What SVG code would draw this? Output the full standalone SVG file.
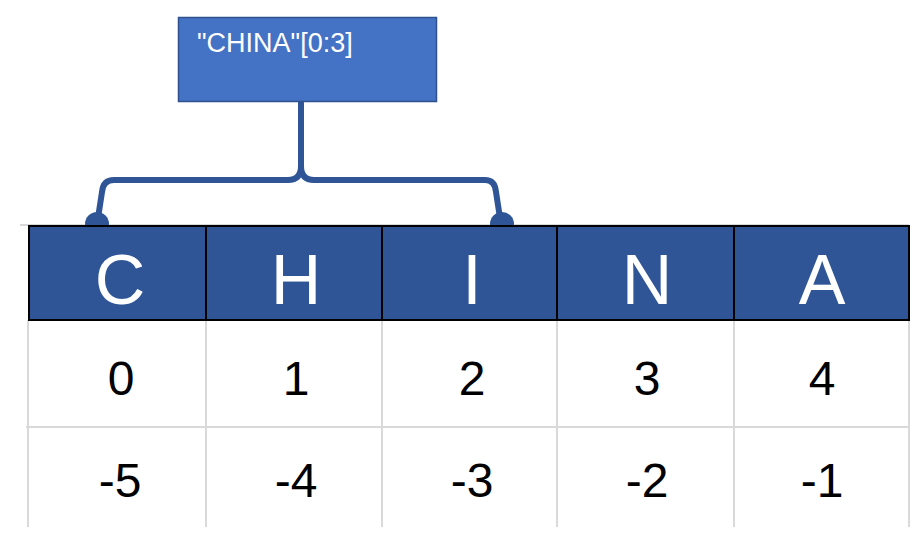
<svg xmlns="http://www.w3.org/2000/svg" width="919" height="539" viewBox="0 0 919 539">
<style>
.grid{stroke:#d9d9d9;stroke-width:2;fill:none}
.hdr{fill:#2f5597;stroke:#000;stroke-width:2}
.let{font-family:"Liberation Sans",Arial,sans-serif;font-size:70px;fill:#fff;text-anchor:middle}
.num{font-family:"Liberation Sans",Arial,sans-serif;font-size:48px;fill:#000;text-anchor:middle}
.brace{stroke:#2f5597;stroke-width:6;fill:none;stroke-linecap:round;stroke-linejoin:round}
.dot{fill:#2f5597}
</style>
<rect width="919" height="539" fill="#fff"/>
<g id="gridlines">
<path class="grid" d="M20,225H909M26,427H909M28,320V527M206,320V527M382,320V527M557,320V527M734,320V527M909,225V527"/>
</g>
<g id="connectors">
<path class="brace" d="M301,103V166Q301,180 288,180H114Q103,180 102,192L98,218"/>
<path class="brace" d="M301,166Q301,180 314,180H485Q495,180 496,192L500,218"/>
<circle class="dot" cx="97" cy="224" r="12"/>
<circle class="dot" cx="502" cy="224" r="12"/>
</g>
<g id="label">
<rect x="178.5" y="17.5" width="258" height="84" fill="#4472c4" stroke="#2f528f" stroke-width="1.5"/>
<text x="197" y="52" font-family="'Liberation Sans',Arial,sans-serif" font-size="27" fill="#fff">"CHINA"[0:3]</text>
</g>
<g id="cell-C"><rect class="hdr" x="29" y="226" width="177" height="94"/><text class="let" x="120" y="304">C</text><text class="num" x="121" y="395">0</text><text class="num" x="120" y="497">-5</text></g>
<g id="cell-H"><rect class="hdr" x="206" y="226" width="176" height="94"/><text class="let" x="296" y="304">H</text><text class="num" x="296" y="395">1</text><text class="num" x="296" y="497">-4</text></g>
<g id="cell-I"><rect class="hdr" x="382" y="226" width="175" height="94"/><text class="let" x="472" y="304">I</text><text class="num" x="472" y="395">2</text><text class="num" x="472" y="497">-3</text></g>
<g id="cell-N"><rect class="hdr" x="557" y="226" width="177" height="94"/><text class="let" x="647" y="304">N</text><text class="num" x="647" y="395">3</text><text class="num" x="647" y="497">-2</text></g>
<g id="cell-A"><rect class="hdr" x="734" y="226" width="175" height="94"/><text class="let" x="822" y="304">A</text><text class="num" x="822" y="395">4</text><text class="num" x="822" y="497">-1</text></g>
</svg>
